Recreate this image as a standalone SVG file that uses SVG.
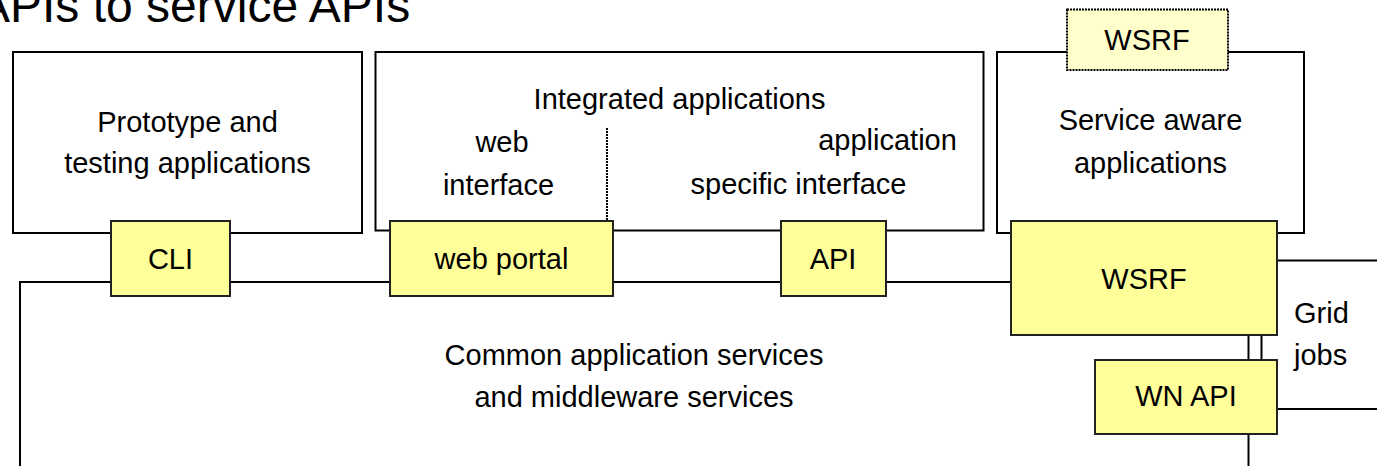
<svg xmlns="http://www.w3.org/2000/svg" width="1377" height="466" viewBox="0 0 1377 466">
<style>
text{font-family:"Liberation Sans",Arial,sans-serif;font-size:29px;fill:#000;text-anchor:middle}
.frame{fill:#fff;stroke:#000;stroke-width:2}
.api{fill:#FFFF99;stroke:#222;stroke-width:2}
.line{fill:none;stroke:#000;stroke-width:2}
.dot{stroke:#000;stroke-width:2;stroke-dasharray:2 1}
</style>
<text x="-22" y="22" style="font-size:48px;text-anchor:start">APIs to service APIs</text>
<g id="connectors">
<polyline class="line" points="20,470 20,282 1011,282"/>
<line class="line" x1="1277" y1="260.5" x2="1377" y2="260.5"/>
<line class="line" x1="1277" y1="409" x2="1377" y2="409"/>
<line class="line" x1="1248.5" y1="335" x2="1248.5" y2="360"/>
<line class="line" x1="1261.5" y1="335" x2="1261.5" y2="360"/>
<line class="line" x1="1248.5" y1="434" x2="1248.5" y2="470"/>
</g>
<g id="prototype">
<rect class="frame" x="13" y="52" width="349" height="181"/>
<text x="187.5" y="132">Prototype and</text>
<text x="187.5" y="173">testing applications</text>
</g>
<g id="integrated">
<rect class="frame" x="375.5" y="52" width="608" height="178.5"/>
<text x="679.5" y="109">Integrated applications</text>
<text x="502" y="152">web</text>
<text x="498.5" y="195">interface</text>
<text x="887.5" y="150">application</text>
<text x="798.5" y="193.5">specific interface</text>
<line class="dot" x1="607" y1="128" x2="607" y2="221" style="fill:none"/>
</g>
<g id="service-aware">
<rect class="frame" x="997" y="52" width="307" height="181"/>
<text x="1150.5" y="130">Service aware</text>
<text x="1150.5" y="173">applications</text>
</g>
<g id="wsrf-top">
<rect class="dot" x="1067" y="9.5" width="161" height="60.5" style="fill:#FFFFCC"/>
<text x="1147" y="50">WSRF</text>
</g>
<g id="cli">
<rect class="api" x="111" y="221" width="119" height="75"/>
<text x="170.5" y="268.5">CLI</text>
</g>
<g id="web-portal">
<rect class="api" x="390" y="221" width="223" height="75"/>
<text x="501.5" y="268.5">web portal</text>
</g>
<g id="api">
<rect class="api" x="781" y="221" width="105" height="75"/>
<text x="833" y="268.5">API</text>
</g>
<g id="wsrf">
<rect class="api" x="1011" y="221" width="266" height="114"/>
<text x="1144" y="288.5">WSRF</text>
</g>
<g id="wn-api">
<rect class="api" x="1095" y="360" width="182" height="74"/>
<text x="1186" y="406">WN API</text>
</g>
<g id="common">
<text x="634" y="365">Common application services</text>
<text x="634" y="407">and middleware services</text>
</g>
<g id="grid-jobs">
<text x="1294" y="323" style="text-anchor:start">Grid</text>
<text x="1294" y="365" style="text-anchor:start">jobs</text>
</g>
</svg>
